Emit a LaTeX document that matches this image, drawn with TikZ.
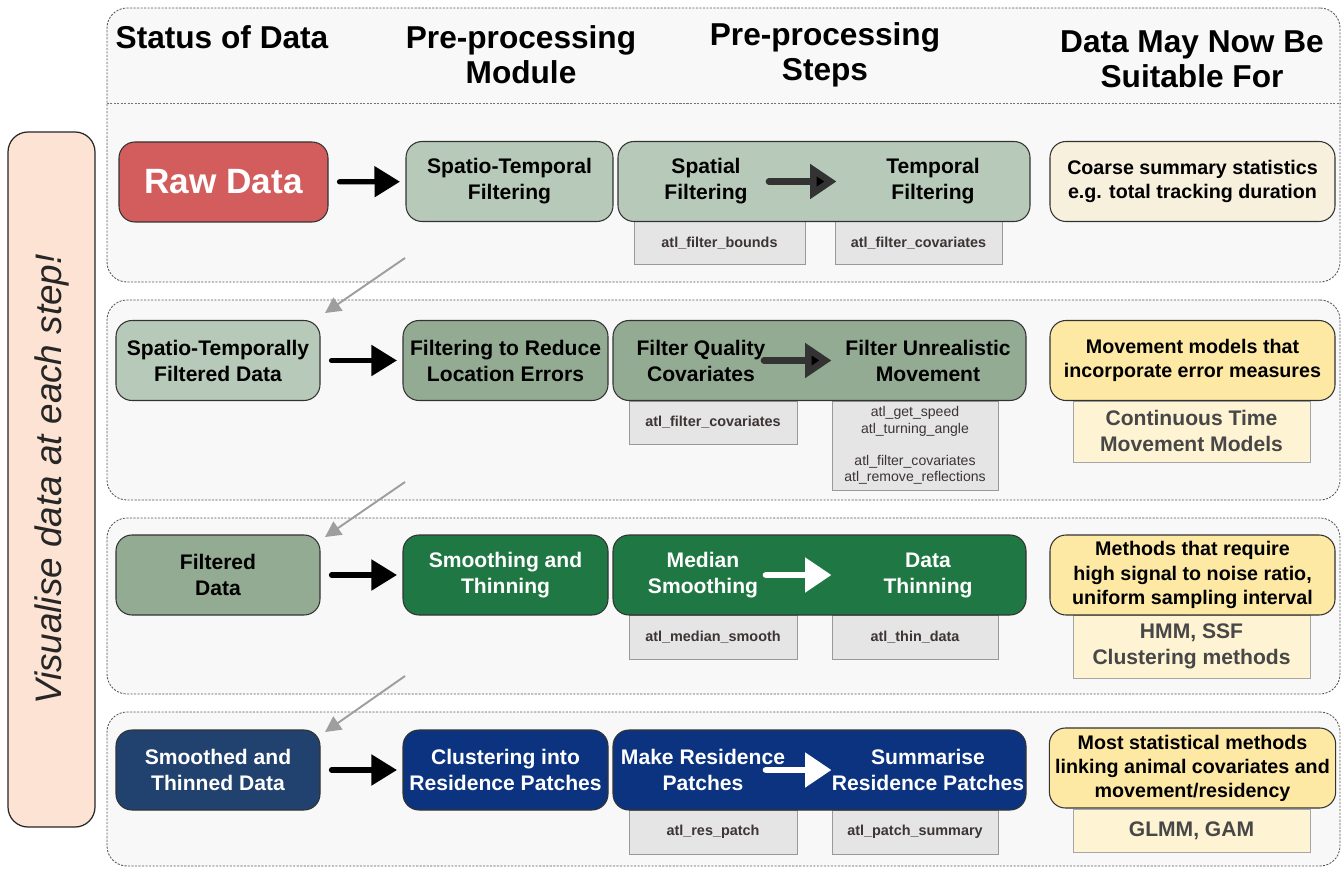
\documentclass[tikz,border=0pt]{standalone}
\usepackage{fontspec}
\setmainfont{Liberation Sans}
\usetikzlibrary{positioning,arrows.meta}

\definecolor{bandgray}{HTML}{F8F8F8}
\definecolor{rawred}{HTML}{D35D5D}
\definecolor{sagelt}{HTML}{B7C9B8}
\definecolor{sagedk}{HTML}{94AB93}
\definecolor{forest}{HTML}{1F7843}
\definecolor{navy}{HTML}{21416E}
\definecolor{royal}{HTML}{0B3380}
\definecolor{creamy}{HTML}{F6F0DC}
\definecolor{butter}{HTML}{FDE9A3}
\definecolor{paleyel}{HTML}{FEF3D2}
\definecolor{codegray}{HTML}{E5E5E5}
\definecolor{codeink}{HTML}{3D3434}
\definecolor{peach}{HTML}{FDE3D3}

\begin{document}
\begin{tikzpicture}[x=0.2mm, y=-0.2mm,
        band/.style={draw=black!65, dash pattern=on 1.2pt off 0.8pt, line width=0.5pt, rounded corners=4mm, fill=bandgray, minimum width=246.6mm},
        rule/.style={draw=black!55, dash pattern=on 1.2pt off 0.8pt, line width=0.5pt},
        box/.style={draw=black!80, line width=0.6pt, rounded corners=3.2mm, align=center, minimum height=16mm, font=\bfseries\fontsize{12}{14.8}\selectfont},
        stat/.style={box, minimum width=40.8mm},
        modl/.style={box, minimum width=41mm},
        stp/.style={box, minimum width=82.6mm},
        use/.style={box, minimum width=57mm, font=\bfseries\fontsize{11.2}{13.7}\selectfont},
        sub/.style={draw=black!35, fill=paleyel, anchor=north, minimum width=47.4mm, align=center, text=black!72, font=\bfseries\fontsize{12}{14.8}\selectfont},
        code/.style={draw=black!40, fill=codegray, anchor=north, minimum height=8.7mm, align=center, text=codeink, font=\bfseries\fontsize{8.2}{9}\selectfont},
        lbl/.style={align=center, font=\bfseries\fontsize{12}{14.8}\selectfont},
        head/.style={align=center, font=\bfseries\fontsize{18}{20}\selectfont},
        go/.style={line width=3pt, line cap=round, -{Triangle[length=14.5pt,width=17pt]}, shorten <=2.2mm, shorten >=1.1mm},
        inner/.style={line width=3.8pt, line cap=round, shorten <=12.6mm, shorten >=19.3mm},
        down/.style={draw=black!38, line width=1.1pt, -{Triangle[length=9pt,width=9pt]}}
    ]
    \useasboundingbox (0,0) rectangle (1343,869);

    % bands
    \node[band, minimum height=54.8mm] (band1) at (723.5,145) {};
    \node[band, minimum height=40mm]   (band2) at (723.5,400) {};
    \node[band, minimum height=35.2mm] (band3) at (723.5,606) {};
    \node[band, minimum height=30.8mm] (band4) at (723.5,789) {};
    \draw[rule] (band1.west |- 0,103) -- (band1.east |- 0,103);

    % side label
    \node[draw=black!85, line width=0.7pt, fill=peach, rounded corners=4mm, rotate=90,
          minimum width=139mm, minimum height=17.4mm, text=black!85,
          font=\itshape\fontsize{21}{24}\selectfont] (vis) at (51.5,479.5) {Visualise data at each step!};

    % column headers
    \node[head] (hstat) at (222,37)  {Status of Data};
    \node[head] (hmod)  at (521,55)  {Pre-processing\\Module};
    \node[head] (hstep) at (825,55)  {Pre-processing\\Steps};
    \node[head] (huse)  at (1192,59) {Data May Now Be\\Suitable For};

    % row 1
    \node[box, fill=rawred, minimum width=41.8mm, text=white, font=\bfseries\fontsize{20}{24}\selectfont] (raw) at (223.5,182) {Raw Data};
    \node[modl, minimum width=41.4mm, fill=sagelt] (mod1) at (509.5,181.5) {Spatio-Temporal\\Filtering};
    \node[code, minimum width=34.2mm] (cb1a) at (719.5,221) {atl\_filter\_bounds};
    \node[code, minimum width=33.4mm] (cb1b) at (918.5,221) {atl\_filter\_covariates};
    \node[stp, minimum width=82.4mm, fill=sagelt] (steps1) at (824,181.5) {};
    \node[lbl] (spat) at (706,181.5) {Spatial\\Filtering};
    \node[lbl] (temp) at (933,181.5) {Temporal\\Filtering};
    \node[use, fill=creamy] (use1) at (1192.5,181.5) {Coarse summary statistics\\e.g. total tracking duration};
    \draw[go] (raw) -- (mod1);
    \draw[inner, draw=black!80, -{Triangle[length=15pt,width=19pt,fill=black]}] (spat.center) -- (temp.center);

    % row 2
    \node[stat, fill=sagelt] (st2) at (218,360.5) {Spatio-Temporally\\Filtered Data};
    \node[modl, fill=sagedk] (mod2) at (505.5,360.5) {Filtering to Reduce\\Location Errors};
    \node[code, minimum width=33.6mm] (cb2a) at (713,400.5) {atl\_filter\_covariates};
    \node[code, minimum width=33.2mm, minimum height=17.4mm, font=\fontsize{8}{9.2}\selectfont] (cb2b) at (915,400.5)
        {atl\_get\_speed\\atl\_turning\_angle\\[9.2pt]atl\_filter\_covariates\\atl\_remove\_reflections};
    \node[stp, fill=sagedk] (steps2) at (819.5,360.5) {};
    \node[lbl] (qual) at (701,360.5) {Filter Quality\\Covariates};
    \node[lbl] (unre) at (928,360.5) {Filter Unrealistic\\Movement};
    \node[sub, minimum height=12.2mm] (sub2) at (1191.5,400.5) {Continuous Time\\Movement Models};
    \node[use, fill=butter] (use2) at (1192.5,360.5) {Movement models that\\incorporate error measures};
    \draw[go] (st2) -- (mod2);
    \draw[inner, draw=black!80, -{Triangle[length=15pt,width=19pt,fill=black]}] (qual.center) -- (unre.center);

    % row 3
    \node[stat, fill=sagedk] (st3) at (218,575) {Filtered\\Data};
    \node[modl, fill=forest, text=white] (mod3) at (505.5,575) {Smoothing and\\Thinning};
    \node[code, minimum width=33.6mm] (cb3a) at (713,615) {atl\_median\_smooth};
    \node[code, minimum width=33.2mm] (cb3b) at (915,615) {atl\_thin\_data};
    \node[stp, fill=forest] (steps3) at (819.5,575) {};
    \node[lbl, text=white] (med)  at (703,575) {Median\\Smoothing};
    \node[lbl, text=white] (thin) at (928,575) {Data\\Thinning};
    \node[sub, minimum height=12.6mm] (sub3) at (1191.5,615) {HMM, SSF\\Clustering methods};
    \node[use, fill=butter] (use3) at (1192.5,575) {Methods that require\\high signal to noise ratio,\\uniform sampling interval};
    \draw[go] (st3) -- (mod3);
    \draw[inner, white, -{Triangle[length=15pt,width=19pt]}] (med.center) -- (thin.center);

    % row 4
    \node[stat, fill=navy, text=white] (st4) at (218,770) {Smoothed and\\Thinned Data};
    \node[modl, fill=royal, text=white] (mod4) at (505.5,770) {Clustering into\\Residence Patches};
    \node[code, minimum width=33.6mm] (cb4a) at (713,810) {atl\_res\_patch};
    \node[code, minimum width=33.2mm] (cb4b) at (915,810) {atl\_patch\_summary};
    \node[stp, fill=royal] (steps4) at (819.5,770) {};
    \node[lbl, text=white] (mkres) at (703,770) {Make Residence\\Patches};
    \node[lbl, text=white] (sumres) at (928,770) {Summarise\\Residence Patches};
    \node[sub, minimum height=8.6mm] (sub4) at (1191.5,809) {GLMM, GAM};
    \node[use, fill=butter] (use4) at (1192.5,768) {Most statistical methods\\linking animal covariates and\\movement/residency};
    \draw[go] (st4) -- (mod4);
    \draw[inner, white, -{Triangle[length=15pt,width=19pt]}] (mkres.center) -- (sumres.center);

    % hand-over between rows
    \coordinate (d1a) at (405,258); \coordinate (d1b) at (325,313);
    \coordinate (d2a) at (405,482); \coordinate (d2b) at (325,537);
    \coordinate (d3a) at (405,676); \coordinate (d3b) at (325,732);
    \draw[down] (d1a) -- (d1b);
    \draw[down] (d2a) -- (d2b);
    \draw[down] (d3a) -- (d3b);
\end{tikzpicture}
\end{document}
